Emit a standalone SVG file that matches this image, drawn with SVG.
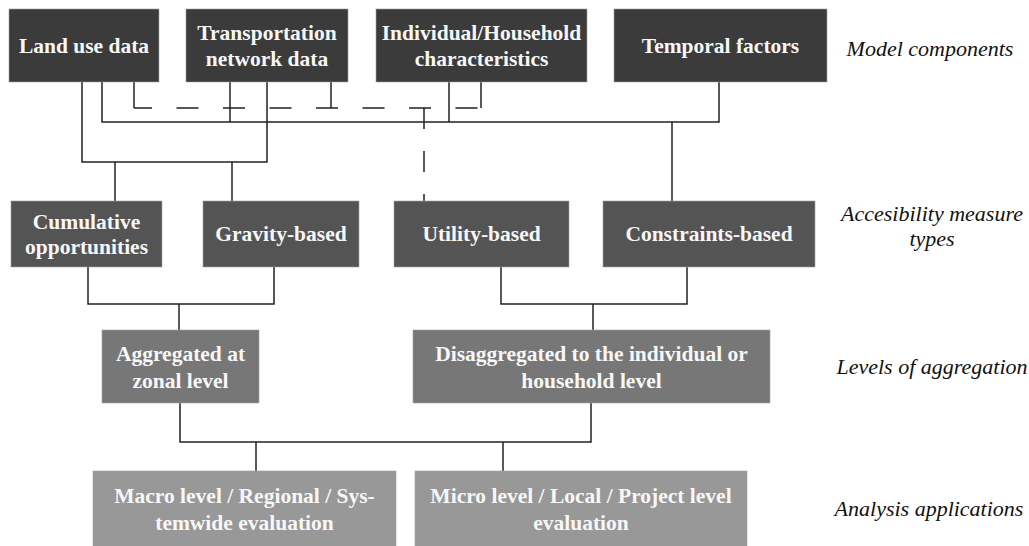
<svg xmlns="http://www.w3.org/2000/svg" width="1029" height="546" viewBox="0 0 1029 546">
<style>
.n text{font-family:"Liberation Serif","Times New Roman",serif;font-weight:bold;font-size:21.5px;fill:#f7f7f7;text-anchor:middle}
.r1{fill:#3b3b3b}
.r2{fill:#545454}
.r3{fill:#777777}
.r4{fill:#989898}
.n rect{stroke:#a0a0a0;stroke-width:0.6}
.lbl{font-family:"Liberation Serif","Times New Roman",serif;font-style:italic;font-size:22px;fill:#111;text-anchor:middle}
.c line,.c path{stroke:#222;stroke-width:1.5;fill:none}
.c .d{stroke-dasharray:22 24.5}
.c .dv{stroke-dasharray:21 22}
</style>
<rect width="1029" height="546" fill="#ffffff"/>
<g class="c" id="connectors">
<path d="M82 82V162H267V82"/>
<line x1="115" y1="162" x2="115" y2="201"/>
<line x1="232" y1="162" x2="232" y2="201"/>
<path d="M102 82V122H719V82"/>
<line x1="230" y1="82" x2="230" y2="122"/>
<line x1="449" y1="82" x2="449" y2="122"/>
<line x1="672" y1="122" x2="672" y2="201"/>
<line x1="134" y1="82" x2="134" y2="108"/>
<line x1="331" y1="82" x2="331" y2="108"/>
<line x1="481" y1="82" x2="481" y2="108"/>
<line class="d" x1="134" y1="108" x2="481" y2="108" style="stroke-dashoffset:4"/>
<line class="dv" x1="424" y1="108" x2="424" y2="201"/>
<path d="M88 267V304H274V267"/>
<line x1="179" y1="304" x2="179" y2="330"/>
<path d="M501 267V304H687V267"/>
<line x1="593" y1="304" x2="593" y2="330"/>
<path d="M180 403V442H591V403"/>
<line x1="256" y1="442" x2="256" y2="471"/>
<line x1="503" y1="442" x2="503" y2="471"/>
</g>
<g class="n" id="land-use">
<rect class="r1" x="9" y="9" width="150" height="73"/>
<text x="84" y="53">Land use data</text>
</g>
<g class="n" id="transportation">
<rect class="r1" x="186" y="9" width="162" height="73"/>
<text x="267" y="40">Transportation</text>
<text x="267" y="66">network data</text>
</g>
<g class="n" id="individual">
<rect class="r1" x="376" y="9" width="211" height="73"/>
<text x="481.5" y="40">Individual/Household</text>
<text x="481.5" y="66">characteristics</text>
</g>
<g class="n" id="temporal">
<rect class="r1" x="614" y="9" width="213" height="73"/>
<text x="720.5" y="53">Temporal factors</text>
</g>
<g class="n" id="cumulative">
<rect class="r2" x="11" y="201" width="151" height="66"/>
<text x="86.5" y="229">Cumulative</text>
<text x="86.5" y="254">opportunities</text>
</g>
<g class="n" id="gravity">
<rect class="r2" x="203" y="201" width="156" height="66"/>
<text x="281" y="241">Gravity-based</text>
</g>
<g class="n" id="utility">
<rect class="r2" x="394" y="201" width="175" height="66"/>
<text x="481.5" y="241">Utility-based</text>
</g>
<g class="n" id="constraints">
<rect class="r2" x="603" y="201" width="212" height="66"/>
<text x="709" y="241">Constraints-based</text>
</g>
<g class="n" id="aggregated">
<rect class="r3" x="102" y="330" width="157" height="73"/>
<text x="180.5" y="361">Aggregated at</text>
<text x="180.5" y="388">zonal level</text>
</g>
<g class="n" id="disaggregated">
<rect class="r3" x="413" y="330" width="357" height="73"/>
<text x="591.5" y="361">Disaggregated to the individual or</text>
<text x="591.5" y="388">household level</text>
</g>
<g class="n" id="macro">
<rect class="r4" x="93" y="471" width="303" height="77"/>
<text x="244.5" y="503">Macro level / Regional / Sys-</text>
<text x="244.5" y="530">temwide evaluation</text>
</g>
<g class="n" id="micro">
<rect class="r4" x="415" y="471" width="332" height="77"/>
<text x="581" y="503">Micro level / Local / Project level</text>
<text x="581" y="530">evaluation</text>
</g>
<g id="labels">
<text class="lbl" x="930" y="56">Model components</text>
<text class="lbl" x="932" y="221">Accesibility measure</text>
<text class="lbl" x="932" y="246">types</text>
<text class="lbl" x="932" y="374">Levels of aggregation</text>
<text class="lbl" x="929" y="516">Analysis applications</text>
</g>
</svg>
